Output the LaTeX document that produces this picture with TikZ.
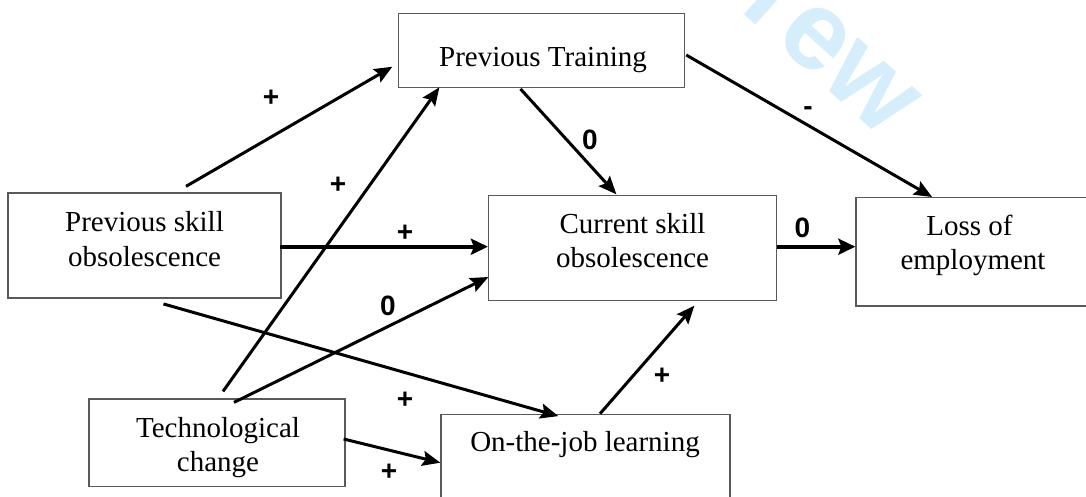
\documentclass[tikz,border=0pt]{standalone}
\usepackage{fontspec}
\setmainfont{Liberation Serif}
\newfontfamily\lblfont{Liberation Sans}
\usetikzlibrary{arrows.meta,calc}
\definecolor{wmark}{RGB}{214,238,251}
\newcommand{\twoline}[2]{\vtop{\halign{\hfil##\hfil\cr #1\cr #2\cr}}}
\begin{document}
\begin{tikzpicture}[x=1pt,y=-1pt,
  box/.style={draw=black!65, line width=1.3pt, rectangle, inner sep=0pt},
  btext/.style={font=\fontsize{29}{34.5}\selectfont, inner sep=0pt, anchor=base},
  sign/.style={font=\lblfont\bfseries\fontsize{28}{30}\selectfont, inner sep=0pt},
  conn/.style={line width=3pt, -{Stealth[length=18pt,width=15pt,inset=3pt]}},
  heavy/.style={line width=4.2pt, -{Stealth[length=17pt,width=16pt,inset=3pt]}}]
\useasboundingbox (0,0) rectangle (1086,496);
% watermark
\node[text=wmark, font=\lblfont\bfseries\fontsize{112}{112}\selectfont, rotate=-42, inner sep=0pt] (wm) at (848,68) {\smash{\llap{i\kern15pt}}ew};
% boxes
\node[box, minimum width=286pt, minimum height=74.4pt] (pt) at (541.5,50.5) {};
\node[box, minimum width=273pt, minimum height=105pt] (pso) at (144.5,245.5) {};
\node[box, minimum width=287.7pt, minimum height=105pt] (cso) at (632.4,248.2) {};
\node[box, minimum width=238pt, minimum height=108.3pt] (loss) at (975,251.8) {};
\node[box, minimum width=256pt, minimum height=87.7pt] (tech) at (217,442.9) {};
\node[box, minimum width=289pt, minimum height=105.7pt] (ojl) at (585.5,467.2) {};
% box texts
\node[btext] (ptt) at (543,66.7) {Previous Training};
\node[btext] (psot) at (144.5,231.7) {\twoline{Previous skill}{obsolescence}};
\node[btext] (csot) at (632.5,233) {\twoline{Current skill}{obsolescence}};
\node[btext] (losst) at (973,235) {\twoline{Loss of\ }{employment}};
\node[btext] (techt) at (218,437.3) {\twoline{Technological}{change}};
\node[btext] (ojlt) at (585,451.7) {On-the-job learning};
% connectors
\draw[conn] ($(pso.north)+(41.5,-6)$) -- ($(pt.west)+(-5.5,16.2)$);
\draw[conn] ($(tech.north)+(6,-7)$) -- ($(pt.south west)+(41.5,-1)$);
\draw[conn] ($(pt.south)+(-21,0.6)$) -- ($(cso.north)+(-16,-0.7)$);
\draw[conn] ($(pt.east)+(1.1,4.5)$) -- ($(loss.north west)+(76.8,0)$);
\draw[heavy] ($(pso.east)+(-2,1.2)$) -- ($(cso.west)+(0,-1.5)$);
\draw[heavy] ($(cso.east)+(0,-1.5)$) -- ($(loss.west)+(0,-5.1)$);
\draw[conn] ($(tech.north)+(17,4)$) -- ($(cso.west)+(0.5,28.8)$);
\draw[conn] ($(pso.south)+(19,5.3)$) -- ($(ojl.north west)+(118,2.4)$);
\draw[conn] ($(tech.east)+(-2,-3.9)$) -- ($(ojl.west)+(0,-4.5)$);
\draw[conn] ($(ojl.north)+(14.5,0)$) -- ($(cso.south)+(62,4.3)$);
% signs
\node[sign] (s1) at (271,98.6) {+};
\node[sign] (s2) at (338,185.6) {+};
\node[sign] (s3) at (590,140) {0};
\node[sign] (s4) at (808,111.3) {-};
\node[sign] (s5) at (405,233.6) {+};
\node[sign] (s6) at (802.5,228) {0};
\node[sign] (s7) at (388,306) {0};
\node[sign] (s8) at (405,400.6) {+};
\node[sign] (s9) at (389,472.6) {+};
\node[sign] (s10) at (662,376.6) {+};
\end{tikzpicture}
\end{document}
